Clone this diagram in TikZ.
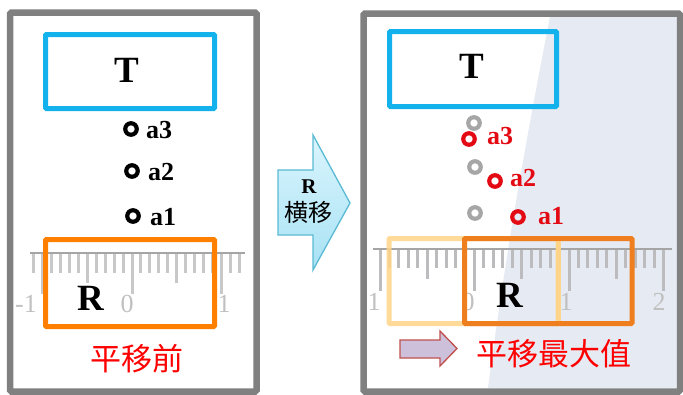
\documentclass[tikz,border=0pt]{standalone}
\usepackage{fontspec}
\setmainfont{Liberation Serif}
\newfontfamily\cjk{Noto Sans CJK TC}
\definecolor{panelgray}{RGB}{128,128,128}
\definecolor{tblue}{RGB}{20,178,236}
\definecolor{ror}{RGB}{255,128,0}
\definecolor{rdark}{RGB}{238,126,30}
\definecolor{rlight}{RGB}{255,212,135}
\definecolor{tickc}{RGB}{200,200,200}
\definecolor{tickd}{RGB}{188,188,190}
\definecolor{basec}{RGB}{165,165,165}
\definecolor{digc}{RGB}{192,192,192}
\definecolor{redc}{RGB}{228,10,20}
\definecolor{tintc}{RGB}{230,234,242}
\definecolor{arrb}{RGB}{90,186,212}
\definecolor{arrtop}{RGB}{218,245,253}
\definecolor{arrbot}{RGB}{168,226,244}
\definecolor{smallb}{RGB}{192,80,77}
\definecolor{smallf}{RGB}{204,192,218}
\begin{document}
\begin{tikzpicture}[x=1pt,y=-1pt,
  panel/.style={draw=panelgray,line width=6.5pt,rounded corners=1.5pt},
  tbox/.style={draw=tblue,line width=5pt,rounded corners=1pt},
  rbox/.style={line width=5pt,rounded corners=1pt},
  big/.style={font=\bfseries\fontsize{37}{37}\selectfont,inner sep=0pt,anchor=base},
  lbl/.style={font=\bfseries\fontsize{26}{26}\selectfont,inner sep=0pt,anchor=base west},
  dig/.style={font=\fontsize{26}{26}\selectfont,text=digc,inner sep=0pt,anchor=base},
  dot/.style={circle,draw,line width=4.2pt,minimum size=11.5pt,inner sep=0pt},
  tickl/.style={draw=tickc,line width=3pt},
  tickr/.style={draw=tickd,line width=3pt},
  baseline/.style={draw=basec,line width=1.2pt},
  cjkred/.style={font=\cjk\fontsize{31}{31}\selectfont,text=red,inner sep=0pt}
]
\useasboundingbox (0,0) rectangle (683,394);
\fill[white] (0,0) rectangle (683,394);
% right panel tint
\fill[tintc] (550,16.5) .. controls (528,130) and (506,250) .. (488,388) -- (677,388) -- (677,16.5) -- cycle;

% ---------- left panel ----------
\draw[baseline] (30,253) -- (245,253);
\foreach \i in {-11,...,12}{
  \pgfmathtruncatemacro\m{mod(abs(\i),10)}
  \pgfmathtruncatemacro\h{mod(abs(\i),5)}
  \pgfmathsetmacro\len{\m==0 ? 40 : (\h==0 ? 29 : 19)}
  \draw[tickl] ({132+8.95*\i},254) -- ++(0,\len);
}
\node[dig,anchor=base east] (lm1) at (37,312) {-1};
\node[dig] (l0) at (127,312) {0};
\node[dig] (l1) at (224,312) {1};

\draw[tbox] (45.5,34.5) rectangle (214.5,108.5);
\node[big] (lT) at (127,82) {T};
\draw[rbox,draw=ror] (45.5,239.5) rectangle (214.5,326.5);
\node[big] (lR) at (91,310) {R};

\node[dot,draw=black] (lc3) at (131,129) {};
\node[dot,draw=black] (lc2) at (132,171) {};
\node[dot,draw=black] (lc1) at (133,216) {};
\node[lbl] (la3) at (146,138) {a3};
\node[lbl] (la2) at (148,180) {a2};
\node[lbl] (la1) at (150,225) {a1};

\node[cjkred] (before) at (137,359) {平移前};
\draw[panel] (10,12.5) rectangle (256.5,391.5);

% ---------- middle arrow ----------
\path[draw=arrb,line width=1.3pt,top color=arrtop,bottom color=arrbot]
  (278,170) -- (313,170) -- (313,135) -- (350,203) -- (313,270) -- (313,235) -- (278,235) -- cycle;
\node[font=\bfseries\fontsize{21}{21}\selectfont,inner sep=0pt,anchor=base] (mR) at (309,193) {R};
\node[font=\cjk\fontsize{24}{24}\selectfont,inner sep=0pt] (mT) at (308,212) {横移};

% ---------- right panel ----------
\draw[baseline] (373,249) -- (672,249);
\foreach \i in {-10,...,20}{
  \pgfmathtruncatemacro\m{mod(abs(\i),10)}
  \pgfmathtruncatemacro\h{mod(abs(\i),5)}
  \pgfmathsetmacro\len{\m==0 ? 41 : (\h==0 ? 29 : 18)}
  \draw[tickr] ({474.5+9.45*\i},250) -- ++(0,\len);
}
\node[dig] (rm1) at (374,310) {1};
\node[dig] (r0) at (468,310) {0};
\node[dig] (r1) at (566,310) {1};
\node[dig] (r2) at (659,310) {2};

\draw[tbox] (389.5,31.5) rectangle (556.5,106.5);
\node[big] (rT) at (472,78) {T};

\draw[rbox,draw=rlight,draw opacity=0.85] (389,238.5) rectangle (558,323.5);
\draw[rbox,draw=rdark] (464.5,238.5) rectangle (632,323.5);
\draw[rbox,draw=rlight,draw opacity=0.85] (558,241) -- (558,321);
\node[big] (rR) at (510,307) {R};

\node[dot,draw=gray!70] (gc3) at (474,123) {};
\node[dot,draw=gray!70] (gc2) at (475,167) {};
\node[dot,draw=gray!70] (gc1) at (475,213) {};
\node[dot,draw=redc] (rc3) at (469,139) {};
\node[dot,draw=redc] (rc2) at (495,181) {};
\node[dot,draw=redc] (rc1) at (518,217) {};
\node[lbl,text=redc] (ra3) at (487,144) {a3};
\node[lbl,text=redc] (ra2) at (510,186) {a2};
\node[lbl,text=redc] (ra1) at (538,224) {a1};

\path[draw=smallb,line width=1.3pt,fill=smallf]
  (400,340) -- (440,340) -- (440,331) -- (457,348.5) -- (440,366) -- (440,358) -- (400,358) -- cycle;
\node[cjkred] (after) at (553.5,354) {平移最大值};

\draw[panel] (363.5,13.5) rectangle (680,391.5);
\end{tikzpicture}
\end{document}
